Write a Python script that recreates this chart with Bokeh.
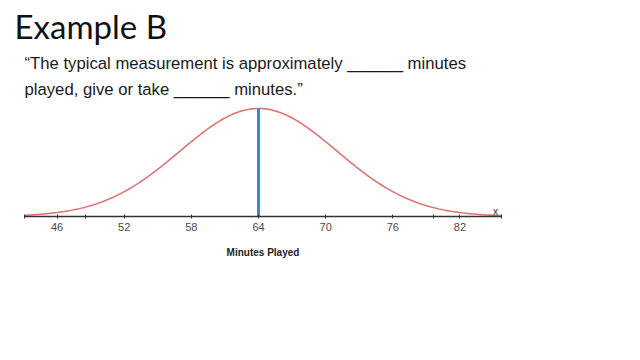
import numpy as np
from bokeh.plotting import figure
from bokeh.models import Range1d, LinearAxis, FixedTicker, Label
from bokeh.embed import file_html
from bokeh.resources import INLINE

# ---- data ----
mu = 64
sigma = 7
major_ticks = [46, 52, 58, 64, 70, 76, 82]
minor_ticks = [43.1, 48.5, 79.6, 85.7]
axis_title = "Minutes Played"
title_text = "Example B"
quote_lines = [
    "\u201cThe typical measurement is approximately ______ minutes",
    "played, give or take ______ minutes.\u201d",
]
var_label = "x"

# ---- layout ----
W, H = 640, 360
px_per_unit = 11.19
x_px_mean = 258
x_start = mu - x_px_mean / px_per_unit
x_end = x_start + W / px_per_unit
peak = 1 / (sigma * np.sqrt(2 * np.pi))
base_px = H - 216
peak_px = H - 108
yscale = (peak_px - base_px) / peak
y_start = -base_px / yscale
y_end = y_start + H / yscale

p = figure(width=W, height=H, output_backend="svg", toolbar_location=None,
           x_range=Range1d(x_start, x_end), y_range=Range1d(y_start, y_end),
           x_axis_location=None, y_axis_location=None, min_border=0)
p.outline_line_color = None
p.xgrid.visible = False
p.ygrid.visible = False
p.background_fill_color = "white"
p.border_fill_color = "white"

# normal curve
lo, hi = minor_ticks[0], minor_ticks[-1]
xs = np.linspace(lo, hi, 400)
ys = np.exp(-0.5 * ((xs - mu) / sigma) ** 2) / (sigma * np.sqrt(2 * np.pi))
p.line(xs, ys, line_color="#dd7474", line_width=1.6)

# mean line
p.segment(x0=[mu], y0=[0], x1=[mu], y1=[peak], line_color="#2a90d2", line_width=3)

axis = LinearAxis(fixed_location=0, bounds=(lo, hi),
                  ticker=FixedTicker(ticks=major_ticks, minor_ticks=minor_ticks),
                  axis_label=axis_title)
axis.axis_line_color = "#333333"
axis.axis_line_width = 1.5
axis.major_tick_line_color = "#333333"
axis.minor_tick_line_color = "#333333"
axis.major_tick_in = 2
axis.major_tick_out = 2
axis.minor_tick_in = 2
axis.minor_tick_out = 2
axis.major_label_text_font = "Liberation Sans"
axis.major_label_text_font_size = "11px"
axis.major_label_text_color = "#4a4a4a"
axis.major_label_standoff = 4
axis.axis_label_text_font = "Liberation Sans"
axis.axis_label_text_font_size = "10px"
axis.axis_label_text_font_style = "bold"
axis.axis_label_text_color = "#222222"
axis.axis_label_standoff = 13
p.add_layout(axis, "below")

p.add_layout(Label(x=14, y=H - 25, x_units="screen", y_units="screen", text=title_text,
                   text_font="Lato", text_font_size="33px", text_color="#111111",
                   text_baseline="alphabetic"))
for i, line in enumerate(quote_lines):
    p.add_layout(Label(x=24, y=H - 63 - 26 * i, x_units="screen", y_units="screen", text=line,
                       text_font="Liberation Sans", text_font_size="16.7px", text_color="#1a1a1a",
                       text_baseline="alphabetic"))
p.add_layout(Label(x=495, y=H - 211, x_units="screen", y_units="screen", text=var_label,
                   text_font="Liberation Sans", text_font_size="10px", text_color="#333333",
                   text_align="center", text_baseline="middle"))

open("out.html", "w").write(file_html(p, INLINE))
